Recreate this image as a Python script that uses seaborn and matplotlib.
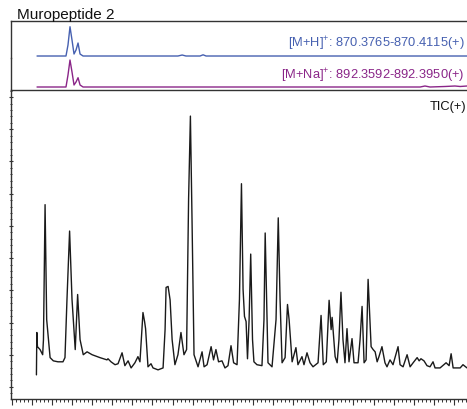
import matplotlib
matplotlib.use("Agg")
import matplotlib.pyplot as plt
from matplotlib.ticker import MultipleLocator, NullFormatter
import seaborn as sns
import pandas as pd

# ---- data (retention time in min, intensity in arbitrary units) ----
tic_time = [1.23, 1.25, 1.28, 1.41, 1.54, 1.58, 1.66, 1.74, 1.91, 2.07, 2.30, 2.55, 2.65, 2.75,
            2.88, 3.00, 3.16, 3.28, 3.40, 3.56, 3.75, 4.00, 4.39, 4.74, 4.79, 4.94, 5.14, 5.29,
            5.49, 5.63, 5.79, 5.94, 6.13, 6.28, 6.38, 6.53, 6.61, 6.66, 6.78, 6.93, 7.03, 7.28,
            7.53, 7.63, 7.68, 7.78, 7.88, 7.98, 8.12, 8.27, 8.42, 8.57, 8.70, 8.80, 8.89, 8.97,
            9.07, 9.27, 9.47, 9.57, 9.72, 9.92, 10.04, 10.16, 10.29, 10.46, 10.61, 10.76, 10.91,
            11.04, 11.21, 11.33, 11.43, 11.51, 11.58, 11.66, 11.73, 11.81, 11.89, 11.98, 12.05,
            12.20, 12.45, 12.55, 12.61, 12.68, 12.75, 12.95, 13.15, 13.26, 13.35, 13.45, 13.60,
            13.72, 13.80, 13.95, 14.14, 14.24, 14.44, 14.54, 14.69, 14.84, 14.99, 15.24, 15.39,
            15.50, 15.65, 15.79, 15.89, 15.94, 16.09, 16.19, 16.28, 16.38, 16.48, 16.58, 16.68,
            16.78, 16.93, 17.03, 17.23, 17.33, 17.43, 17.53, 17.63, 17.73, 17.88, 17.98, 18.08,
            18.18, 18.27, 18.42, 18.57, 18.67, 18.82, 18.97, 19.22, 19.32, 19.47, 19.67, 19.82,
            19.97, 20.17, 20.27, 20.36, 20.51, 20.66, 20.81, 20.96, 21.06, 21.31, 21.61, 21.76,
            21.86, 21.96, 22.31, 22.45, 22.65]
tic_intensity = [3.75, 16.9, 12.5, 11.6, 10.0, 14.7, 56.6, 20.9, 9.1, 8.1, 7.8, 7.8, 9.1, 27.2,
                 48.4, 27.2, 11.6, 28.7, 14.7, 10.0, 10.9, 10.0, 9.1, 8.4, 8.75, 7.8, 6.9, 7.2,
                 10.6, 6.6, 8.1, 5.9, 7.5, 9.4, 7.8, 23.1, 20.3, 18.1, 6.25, 7.2, 5.9, 5.3,
                 5.9, 17.8, 30.9, 31.2, 27.0, 14.7, 6.9, 10.0, 16.9, 10.0, 11.6, 58.4, 84.1, 52.2,
                 10.0, 6.25, 10.9, 6.25, 6.9, 12.5, 8.4, 11.6, 7.8, 8.1, 5.9, 6.6, 12.8,
                 7.5, 6.9, 27.2, 63.1, 30.3, 21.9, 20.3, 8.75, 20.9, 41.25, 14.7, 7.8,
                 6.9, 6.6, 20.9, 47.8, 27.2, 7.5, 6.25, 20.9, 52.5, 27.2, 7.5, 9.1,
                 25.6, 20.9, 7.8, 12.2, 6.9, 9.4, 6.9, 10.6, 7.5, 6.25, 7.5, 22.2,
                 6.9, 7.8, 26.9, 17.8, 21.6, 9.4, 7.5, 14.7, 29.4, 14.7, 7.5, 18.1,
                 7.8, 15.0, 7.5, 7.5, 14.7, 25.0, 7.5, 8.4, 33.4, 12.5, 11.6, 10.9,
                 7.8, 9.4, 12.5, 7.5, 6.25, 8.4, 6.9, 12.5, 6.9, 6.25, 10.0, 6.25,
                 7.5, 9.1, 8.1, 8.75, 8.1, 6.6, 6.25, 7.8, 5.9, 5.9, 7.5, 6.6,
                 10.3, 5.9, 5.9, 6.9, 5.9]

mh_time = [1.26, 2.70, 2.80, 2.90, 3.00, 3.10, 3.20, 3.30, 3.40, 3.55, 8.27, 8.48, 8.67,
           9.37, 9.52, 9.67, 22.65]
mh_intensity = [0, 0, 37.5, 100, 54.6, 6.8, 20.5, 44.4, 6.8, 0, 0, 3.4, 0, 0, 4.1, 0, 0]

mna_time = [1.26, 2.70, 2.80, 2.90, 3.00, 3.10, 3.20, 3.30, 3.40, 3.55, 20.32, 20.56, 20.81,
            21.56, 22.05, 22.31, 22.65]
mna_intensity = [0, 0, 44.4, 100, 55.6, 7.4, 18.5, 34.4, 7.4, 0, 0, 3.7, 0, 1.9, 3.7, 1.9, 3.7]

title_text = "Muropeptide 2"
mh_label = "[M+H]$^{+}$: 870.3765-870.4115(+)"
mna_label = "[M+Na]$^{+}$: 892.3592-892.3950(+)"
tic_label = "TIC(+)"

# ---- style ----
sns.set_style("white")
plt.rcParams["font.family"] = ["Liberation Sans", "DejaVu Sans"]
plt.rcParams["mathtext.fontset"] = "custom"
plt.rcParams["mathtext.rm"] = "Liberation Sans"

blue = "#4660b0"
purple = "#8a2588"
spine_c = "#333333"

fig = plt.figure(figsize=(4.67, 4.09), dpi=100)
W, H = 467.0, 409.0
left = 11 / W
width = 1.0 - left

ax_tic = fig.add_axes([left, 1 - 399 / H, width, (399 - 90) / H])
ax_pu = fig.add_axes([left, 1 - 90 / H, width, (90 - 58) / H])
ax_bl = fig.add_axes([left, 1 - 58 / H, width, (58 - 21) / H])

xlim = (-0.035, 22.65)

tic_df = pd.DataFrame({"time": tic_time, "intensity": tic_intensity})
mh_df = pd.DataFrame({"time": mh_time, "intensity": mh_intensity})
mna_df = pd.DataFrame({"time": mna_time, "intensity": mna_intensity})

sns.lineplot(data=tic_df, x="time", y="intensity", ax=ax_tic, color="#1a1a1a",
             linewidth=1.0, sort=False, estimator=None)
sns.lineplot(data=mh_df, x="time", y="intensity", ax=ax_bl, color=blue,
             linewidth=1.0, sort=False, estimator=None)
sns.lineplot(data=mna_df, x="time", y="intensity", ax=ax_pu, color=purple,
             linewidth=1.0, sort=False, estimator=None)

for ax in (ax_tic, ax_pu, ax_bl):
    ax.set_xlim(*xlim)
    ax.set_xlabel("")
    ax.set_ylabel("")
    ax.patch.set_alpha(0)
    for s in ax.spines.values():
        s.set_color(spine_c)
        s.set_linewidth(1.0)
    ax.spines["right"].set_visible(False)

ax_tic.set_ylim(-3.75, 92.2)
ax_bl.set_ylim(-6.8, 119.5)
ax_pu.set_ylim(-11.1, 107.4)

# top panels: only left (and top for blue) border
for ax in (ax_pu, ax_bl):
    ax.spines["bottom"].set_visible(False)
    ax.set_xticks([])
    ax.set_yticks([])
ax_pu.spines["top"].set_visible(False)

# TIC axes ticks
ax_tic.xaxis.set_major_locator(MultipleLocator(1))
ax_tic.xaxis.set_minor_locator(MultipleLocator(0.2))
ax_tic.yaxis.set_major_locator(MultipleLocator(10))
ax_tic.yaxis.set_minor_locator(MultipleLocator(2))
ax_tic.xaxis.set_major_formatter(NullFormatter())
ax_tic.yaxis.set_major_formatter(NullFormatter())
ax_tic.tick_params(axis="x", which="major", direction="out", length=4.2, width=0.8,
                   color=spine_c, bottom=True)
ax_tic.tick_params(axis="x", which="minor", direction="out", length=2.2, width=0.7,
                   color=spine_c, bottom=True)
ax_tic.tick_params(axis="y", which="major", direction="inout", length=3, width=0.8,
                   color=spine_c, left=True)
ax_tic.tick_params(axis="y", which="minor", direction="inout", length=2, width=0.7,
                   color=spine_c, left=True)

# texts
fig.text(17 / W, 1 - 18.5 / H, title_text, ha="left", va="baseline", fontsize=11, color="#111111")
fig.text(465 / W, 1 - 44 / H, mh_label, ha="right", va="center", fontsize=9.3, color=blue)
fig.text(465 / W, 1 - 76 / H, mna_label, ha="right", va="center", fontsize=9.3, color=purple)
fig.text(466 / W, 1 - 107 / H, tic_label, ha="right", va="center", fontsize=9.3, color="#111111")

fig.savefig("out.png", dpi=100)
